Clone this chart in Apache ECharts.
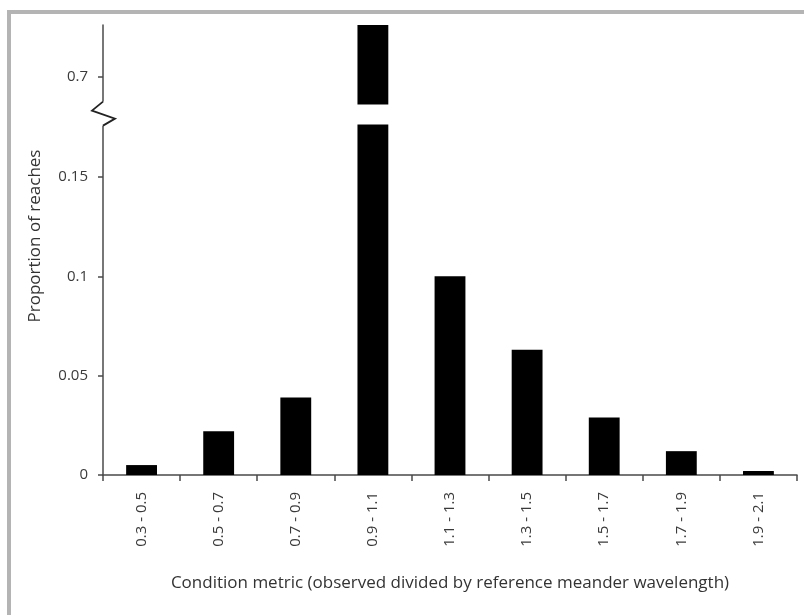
<!DOCTYPE html>
<html>
<head>
<meta charset="utf-8">
<script src="https://cdn.jsdelivr.net/npm/echarts@6.0.0/dist/echarts.min.js"></script>
<style>
  html, body { margin: 0; padding: 0; background: #fff; }
  #wrap { position: relative; width: 804px; height: 615px; overflow: hidden; }
  #frame { position: absolute; left: 7px; top: 10px; width: 900px; height: 700px;
           border-top: 4px solid #b4b4b4; border-left: 4px solid #b4b4b4; box-sizing: border-box; }
  #chart { position: absolute; left: 0; top: 0; width: 804px; height: 615px; }
</style>
</head>
<body>
<div id="wrap">
  <div id="frame"></div>
  <div id="chart"></div>
</div>
<script>
// ---- data ----
const categories = ['0.3 - 0.5', '0.5 - 0.7', '0.7 - 0.9', '0.9 - 1.1', '1.1 - 1.3',
                    '1.3 - 1.5', '1.5 - 1.7', '1.7 - 1.9', '1.9 - 2.1'];
const proportions = [0.005, 0.022, 0.039, 0.726, 0.100, 0.063, 0.029, 0.012, 0.002];
const yTicks = [0, 0.05, 0.1, 0.15, 0.7];
const breakStart = 0.1764;
const breakEnd = 0.6859;
const axisMax = 0.726;
const xTitle = 'Condition metric (observed divided by reference meander wavelength)';
const yTitle = 'Proportion of reaches';

const FONT = 'Open Sans';
const chart = echarts.init(document.getElementById('chart'), null, { renderer: 'canvas' });

const option = {
  animation: false,
  backgroundColor: 'transparent',
  grid: { left: 103, right: 7, top: 25, bottom: 140, containLabel: false },
  xAxis: {
    type: 'category',
    data: categories,
    axisLine: { show: true, lineStyle: { color: '#4a4a4a', width: 1.5 } },
    axisTick: { show: true, length: 6, lineStyle: { color: '#4a4a4a', width: 1.5 } },
    axisLabel: { rotate: 90, margin: 17, color: '#3a3a3a', fontFamily: FONT, fontSize: 15 },
    name: xTitle,
    nameLocation: 'middle',
    nameGap: 100,
    nameTextStyle: { color: '#333', fontFamily: FONT, fontSize: 17 }
  },
  yAxis: {
    type: 'value',
    min: 0,
    max: axisMax,
    splitLine: { show: false },
    axisLine: { show: true, lineStyle: { color: '#4a4a4a', width: 1.5 } },
    axisTick: { show: true, length: 5, customValues: yTicks, lineStyle: { color: '#4a4a4a', width: 1.5 } },
    axisLabel: { margin: 15, customValues: yTicks, color: '#3a3a3a', fontFamily: FONT, fontSize: 15 },
    breaks: [{ start: breakStart, end: breakEnd, gap: 0.01005 }],
    breakArea: {
      show: true,
      expandOnClick: false,
      zigzagAmplitude: 0,
      itemStyle: { color: '#fff', borderColor: 'rgba(0,0,0,0)', borderWidth: 0, opacity: 1 }
    },
    name: yTitle,
    nameLocation: 'middle',
    nameGap: 59,
    nameTextStyle: { color: '#333', fontFamily: FONT, fontSize: 17, padding: [0, 0, 0, 28] }
  },
  series: [{
    type: 'bar',
    data: proportions,
    barWidth: '40%',
    itemStyle: { color: '#000' }
  }]
};
chart.setOption(option);

// Axis-break zigzag on the y axis line, positioned from the axis scale
const gridLeft = 103;
const yTop = chart.convertToPixel({ yAxisIndex: 0 }, breakEnd);
const yBot = chart.convertToPixel({ yAxisIndex: 0 }, breakStart);
chart.setOption({
  graphic: [
    { type: 'rect', z: 100, shape: { x: gridLeft - 3, y: yTop - 3, width: 6, height: (yBot - yTop) + 4 },
      style: { fill: '#fff' } },
    { type: 'polyline', z: 101,
      shape: { points: [[gridLeft, yTop - 3], [gridLeft - 11, yTop + 6], [gridLeft + 12, yBot - 6], [gridLeft, yBot + 1]] },
      style: { stroke: '#222', lineWidth: 1.8, fill: null } }
  ]
});
</script>
</body>
</html>
